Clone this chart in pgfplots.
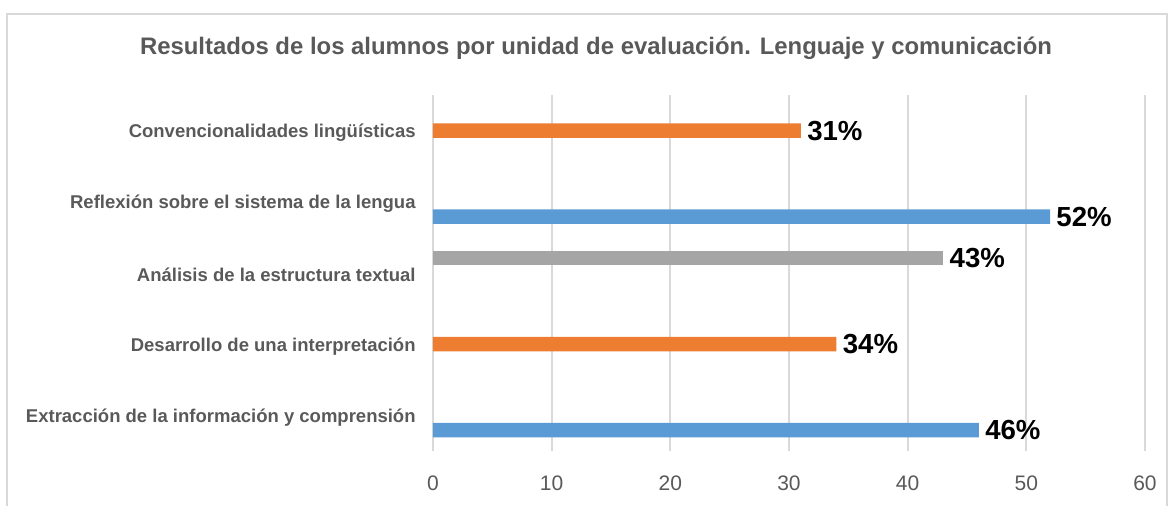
\documentclass[border=0pt]{standalone}
\usepackage{fontspec}
\setmainfont{Liberation Sans}
\usepackage{pgfplots}
\pgfplotsset{compat=1.18}
\definecolor{serA}{HTML}{5B9BD5}
\definecolor{serB}{HTML}{ED7D31}
\definecolor{serC}{HTML}{A5A5A5}
\definecolor{txtgray}{HTML}{595959}
\definecolor{gridgray}{HTML}{D9D9D9}

\begin{document}
\begin{tikzpicture}
% 1 px of the reference = 0.5bp; axis box corner (0,0) = pixel (433,451)
\useasboundingbox (-216.5bp,-27.5bp) rectangle (368.5bp,225.5bp);
\draw[gridgray, line width=0.8bp] (-213bp,-40bp) -- (-213bp,218.5bp) -- (367bp,218.5bp) -- (367bp,-40bp);
\node[font=\bfseries\fontsize{11.95bp}{14bp}\selectfont, text=txtgray] at (81.5bp,201.5bp)
  {Resultados de los alumnos por unidad de evaluación. Lenguaje y comunicación};
\begin{axis}[
    at={(0,0)}, anchor=south west,
    scale only axis,
    width=356bp, height=178bp,
    xbar,
    bar width=7.25bp,
    xmin=0, xmax=60,
    ymin=-0.5, ymax=4.5,
    xtick={0,10,20,30,40,50,60},
    ytick={0,1,2,3,4},
    yticklabels={Extracción de la información y comprensión,
                 Desarrollo de una interpretación,
                 Análisis de la estructura textual,
                 Reflexión sobre el sistema de la lengua,
                 Convencionalidades lingüísticas\hspace{0.28em}},
    axis line style={draw=none},
    major tick length=0pt,
    xmajorgrids,
    grid style={gridgray, line width=0.9bp},
    /pgf/number format/assume math mode=true,
    xticklabel style={font=\fontsize{10.5bp}{12bp}\selectfont, text=txtgray, inner sep=0pt, anchor=north, yshift=-12bp},
    yticklabel style={font=\bfseries\fontsize{9.25bp}{10bp}\selectfont, text=txtgray, inner sep=0pt, anchor=east, xshift=-8.5bp, yshift=-1bp},
    nodes near coords={\pgfmathprintnumber\pgfplotspointmeta\%},
    every node near coord/.append style={anchor=west, font=\bfseries\fontsize{13.8bp}{16bp}\selectfont, text=black, inner sep=0pt, xshift=3bp},
    clip=false,
]
\addplot[fill=serA, draw=none, bar shift=-7.4bp] coordinates {(46,0) (52,3)};
\addplot[fill=serB, draw=none, bar shift=0bp] coordinates {(34,1) (31,4)};
\addplot[fill=serC, draw=none, bar shift=7.4bp] coordinates {(43,2)};
\end{axis}
\end{tikzpicture}
\end{document}
